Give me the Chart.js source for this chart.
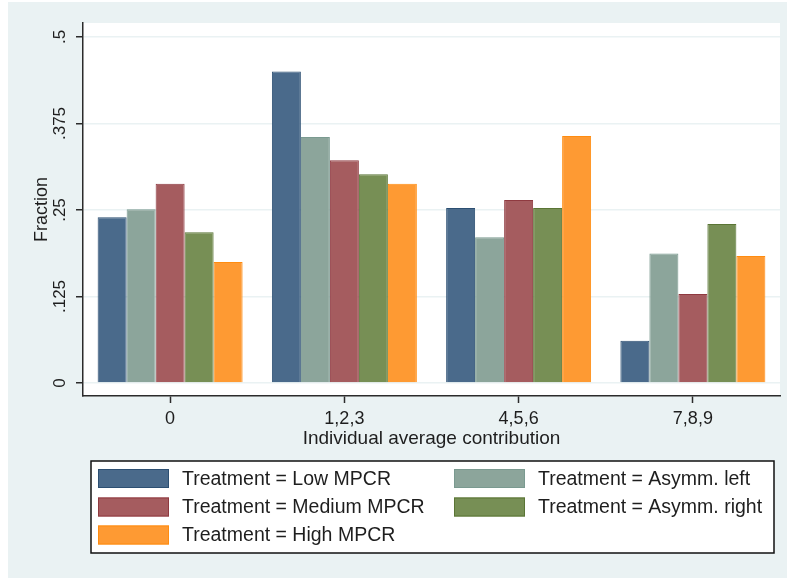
<!DOCTYPE html>
<html>
<head>
<meta charset="utf-8">
<title>Individual average contribution by treatment</title>
<script src="https://cdn.jsdelivr.net/npm/chart.js@4/dist/chart.umd.min.js"></script>
<style>
  html, body { margin: 0; padding: 0; background: #ffffff; }
  #wrap { width: 787px; height: 578px; }
</style>
</head>
<body>
<div id="wrap"><canvas id="chart" width="787" height="578"></canvas></div>
<script>
// Contribution bins on the x axis
const categories = ['0', '1,2,3', '4,5,6', '7,8,9'];

// Fraction of subjects in each bin, per treatment
const lowMPCR     = [0.2395, 0.450, 0.253, 0.061];
const asymmLeft   = [0.251, 0.3555, 0.2105, 0.187];
const mediumMPCR  = [0.288, 0.322, 0.2645, 0.1286];
const asymmRight  = [0.218, 0.3015, 0.253, 0.2298];
const highMPCR    = [0.175, 0.288, 0.357, 0.1835];

// Y axis ticks and their printed labels
const yTicks      = [0, 0.125, 0.25, 0.375, 0.5];
const yTickLabels = ['0', '.125', '.25', '.375', '.5'];

const FONT = "'Liberation Sans', Arial, Helvetica, sans-serif";
const TEXT = '#1e1e1e';
const AXIS = '#2b2b2b';
const PAGE_BG = '#eaf2f3';

const series = [
  { label: 'Treatment = Low MPCR',     data: lowMPCR,    fill: '#4a6a8b', edge: '#2c4f72' },
  { label: 'Treatment = Asymm. left',  data: asymmLeft,  fill: '#8ca59b', edge: '#7a9a90' },
  { label: 'Treatment = Medium MPCR',  data: mediumMPCR, fill: '#a55c5f', edge: '#8f3a40' },
  { label: 'Treatment = Asymm. right', data: asymmRight, fill: '#778f55', edge: '#5a7535' },
  { label: 'Treatment = High MPCR',    data: highMPCR,   fill: '#fe9a33', edge: '#ff8c10' }
];

// Page background, framed plot region
const backdrop = {
  id: 'backdrop',
  beforeDraw(chart) {
    const { ctx, chartArea: a } = chart;
    ctx.save();
    ctx.fillStyle = '#ffffff';
    ctx.fillRect(0, 0, chart.width, chart.height);
    ctx.fillStyle = PAGE_BG;
    ctx.fillRect(8, 2, chart.width - 8, chart.height - 2);
    ctx.fillStyle = '#ffffff';
    ctx.fillRect(a.left, a.top, a.right - a.left, a.bottom - a.top);
    ctx.restore();
  }
};

// Vertical (rotated) y tick labels placed from the y scale
const yLabels = {
  id: 'yLabels',
  afterDraw(chart) {
    const { ctx } = chart;
    const scale = chart.scales.y;
    ctx.save();
    ctx.fillStyle = TEXT;
    ctx.font = '17px ' + FONT;
    ctx.textAlign = 'center';
    ctx.textBaseline = 'middle';
    scale.ticks.forEach((t, i) => {
      const y = scale.getPixelForValue(t.value);
      ctx.save();
      ctx.translate(60, y);
      ctx.rotate(-Math.PI / 2);
      ctx.fillText(yTickLabels[i], 0, 0);
      ctx.restore();
    });
    ctx.restore();
  }
};

// Two-column boxed legend below the axis title
const boxLegend = {
  id: 'boxLegend',
  afterDraw(chart) {
    const { ctx } = chart;
    const box = { x: 91, y: 461, w: 683, h: 92 };
    const cols = [98, 454];
    const rows = [478.5, 507, 535];
    const sw = 71, sh = 19;
    ctx.save();
    ctx.fillStyle = '#ffffff';
    ctx.fillRect(box.x, box.y, box.w, box.h);
    ctx.strokeStyle = '#111111';
    ctx.lineWidth = 1.5;
    ctx.strokeRect(box.x, box.y, box.w, box.h);
    ctx.font = '19.5px ' + FONT;
    ctx.textBaseline = 'middle';
    ctx.textAlign = 'left';
    chart.data.datasets.forEach((ds, i) => {
      const cx = cols[i % 2];
      const cy = rows[Math.floor(i / 2)];
      ctx.fillStyle = ds.backgroundColor;
      ctx.fillRect(cx, cy - sh / 2, sw, sh);
      ctx.strokeStyle = ds.borderColor;
      ctx.lineWidth = 1;
      ctx.strokeRect(cx + 0.5, cy - sh / 2 + 0.5, sw - 1, sh - 1);
      ctx.fillStyle = TEXT;
      ctx.fillText(ds.label, cx + 84, cy + 1);
    });
    ctx.restore();
  }
};

new Chart(document.getElementById('chart'), {
  type: 'bar',
  data: {
    labels: categories,
    datasets: series.map(s => ({
      label: s.label,
      data: s.data,
      backgroundColor: s.fill,
      borderColor: s.edge,
      borderWidth: 1,
      categoryPercentage: 0.832,
      barPercentage: 1.0
    }))
  },
  options: {
    responsive: false,
    animation: false,
    devicePixelRatio: 1,
    layout: { padding: { top: 23, right: 7, bottom: 122, left: 0 } },
    plugins: {
      legend: { display: false },
      tooltip: { enabled: false }
    },
    scales: {
      x: {
        grid: {
          display: true,
          drawOnChartArea: false,
          drawTicks: true,
          offset: false,
          tickLength: 7,
          tickColor: AXIS,
          tickWidth: 1.5
        },
        border: { display: true, color: AXIS, width: 1.5 },
        ticks: {
          color: TEXT,
          font: { family: FONT, size: 18 },
          padding: 5,
          maxRotation: 0,
          minRotation: 0
        },
        title: {
          display: true,
          text: 'Individual average contribution',
          color: TEXT,
          font: { family: FONT, size: 19 },
          padding: { top: 0, bottom: 6 }
        },
        afterFit(scale) { scale.height = 60; }
      },
      y: {
        min: -13 / 692,
        max: 0.5 + 14 / 692,
        afterBuildTicks(scale) {
          scale.ticks = yTicks.map(v => ({ value: v }));
        },
        grid: {
          color: PAGE_BG,
          lineWidth: 1.5,
          drawTicks: true,
          tickLength: 7,
          tickColor: AXIS,
          tickWidth: 1.5
        },
        border: { display: true, color: AXIS, width: 1.5 },
        ticks: { display: false },
        title: {
          display: true,
          text: 'Fraction',
          color: TEXT,
          font: { family: FONT, size: 18 },
          padding: { top: 31, bottom: 0 }
        },
        afterFit(scale) { scale.width = 83; }
      }
    }
  },
  plugins: [backdrop, yLabels, boxLegend]
});
</script>
</body>
</html>
